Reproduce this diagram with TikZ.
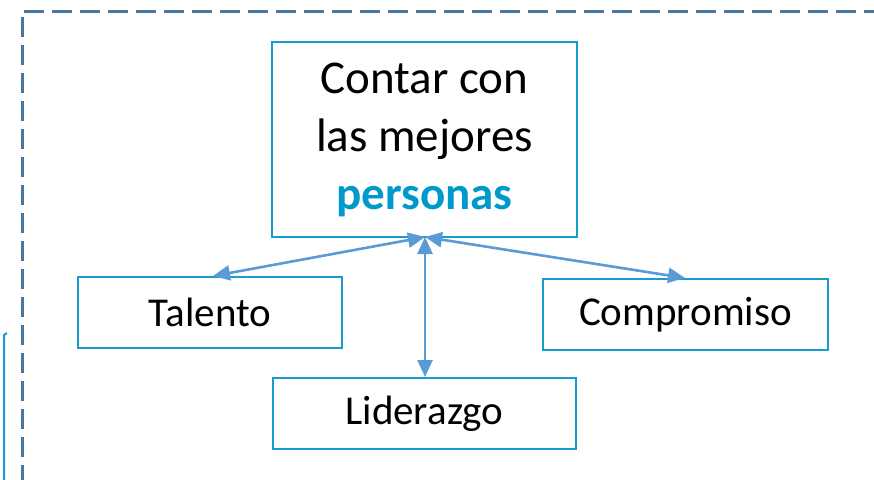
\documentclass[tikz,border=0pt]{standalone}
\usepackage{fontspec}
\setmainfont{Carlito}
\usetikzlibrary{arrows.meta}
\definecolor{boxblue}{HTML}{1A9BCF}
\definecolor{arrblue}{HTML}{5B9BD5}
\definecolor{dashblue}{HTML}{4A76A0}
\definecolor{txtblue}{HTML}{0099CC}
\begin{document}
\begin{tikzpicture}[x=1pt,y=-1pt,
  box/.style={draw=boxblue,line width=2pt,inner sep=0pt,anchor=center,align=center},
  conn/.style={draw=arrblue,line width=2.6pt,{Triangle[length=17pt,width=15pt]}-{Triangle[length=17pt,width=15pt]}}]
\useasboundingbox (0,0) rectangle (874,479);
% dashed frame
\draw[dashblue,line width=3pt,dash pattern=on 20pt off 8pt] (22,485) -- (22,11) -- (880,11);
% solid fragment at left
\draw[boxblue,line width=2pt] (4,480) -- (4,335) -- (7,333);
% boxes
\node[box,minimum width=305pt,minimum height=195pt,font=\fontsize{47}{58}\selectfont] (top) at (424.5,139.5) {Contar con\\las mejores\\\textcolor{txtblue}{\textbf{personas}}};
\node[box,minimum width=264pt,minimum height=71pt,font=\fontsize{41}{50}\selectfont] (tal) at (210,312.5) {Talento};
\node[box,minimum width=285pt,minimum height=71pt,font=\fontsize{41}{50}\selectfont] (com) at (685.5,314.5) {Compromiso};
\node[box,minimum width=303pt,minimum height=71pt,font=\fontsize{41}{50}\selectfont] (lid) at (424.5,413.5) {Liderazgo};
% connectors
\coordinate (hub) at (425,237);
\draw[conn] (hub) -- (213,276);
\draw[conn] (hub) -- (685,278);
\draw[conn] (hub) -- (425,377);
\end{tikzpicture}
\end{document}
